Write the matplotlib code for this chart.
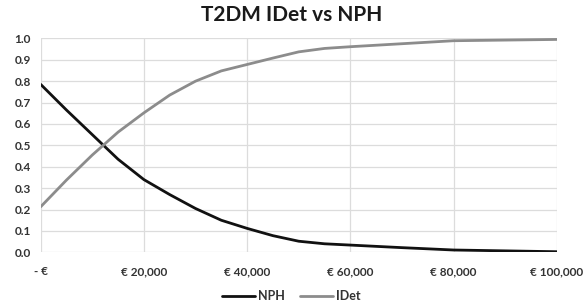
import matplotlib
matplotlib.use("Agg")
import matplotlib.pyplot as plt

# Willingness-to-pay thresholds (EUR) and acceptability probabilities
wtp = [0, 5000, 10000, 15000, 20000, 25000, 30000, 35000, 40000, 45000,
       50000, 55000, 60000, 70000, 80000, 90000, 100000]
nph = [0.785, 0.665, 0.55, 0.435, 0.34, 0.27, 0.205, 0.15, 0.112, 0.078,
       0.052, 0.04, 0.034, 0.022, 0.011, 0.007, 0.003]
idet = [0.213, 0.338, 0.455, 0.562, 0.652, 0.735, 0.8, 0.848, 0.878, 0.908,
        0.937, 0.953, 0.961, 0.975, 0.989, 0.992, 0.995]

x_ticks = [0, 20000, 40000, 60000, 80000, 100000]
x_labels = ["- \u20ac", "\u20ac 20,000", "\u20ac 40,000", "\u20ac 60,000", "\u20ac 80,000", "\u20ac 100,000"]
y_ticks = [i / 10 for i in range(11)]

plt.rcParams['font.family'] = ['Lato', 'DejaVu Sans']

fig = plt.figure(figsize=(5.83, 3.07), dpi=100)
ax = fig.add_axes([0.0698, 0.178, 0.8852, 0.697])

ax.plot(wtp, nph, color='#111111', lw=2.0, label='NPH', solid_capstyle='round', solid_joinstyle='round')
ax.plot(wtp, idet, color='#8c8c8c', lw=2.0, label='IDet', solid_capstyle='round', solid_joinstyle='round')

ax.set_xlim(0, 100000)
ax.set_ylim(0, 1.0)
ax.set_xticks(x_ticks)
ax.set_xticklabels(x_labels)
ax.set_yticks(y_ticks)
ax.set_yticklabels([f"{v:.1f}" for v in y_ticks])

ax.grid(True, color='#dcdcdc', lw=0.9)
ax.set_axisbelow(True)
for s in ax.spines.values():
    s.set_visible(False)
ax.tick_params(length=0, labelsize=8.5, colors='#333333')
ax.tick_params(axis='x', pad=10)
ax.tick_params(axis='y', pad=7)
for lab in ax.get_xticklabels() + ax.get_yticklabels():
    lab.set_fontweight('bold')

fig.suptitle("T2DM IDet vs NPH", x=0.5, y=0.985, fontsize=15, fontweight='bold', color='#1a1a1a')

leg = fig.legend(loc='center', bbox_to_anchor=(0.5, 0.035), ncol=2, frameon=False,
                 fontsize=9, handlelength=2.6, columnspacing=1.2, handletextpad=0.3)
for t in leg.get_texts():
    t.set_fontweight('bold')
    t.set_color('#333333')

fig.savefig("out.png", dpi=100)
